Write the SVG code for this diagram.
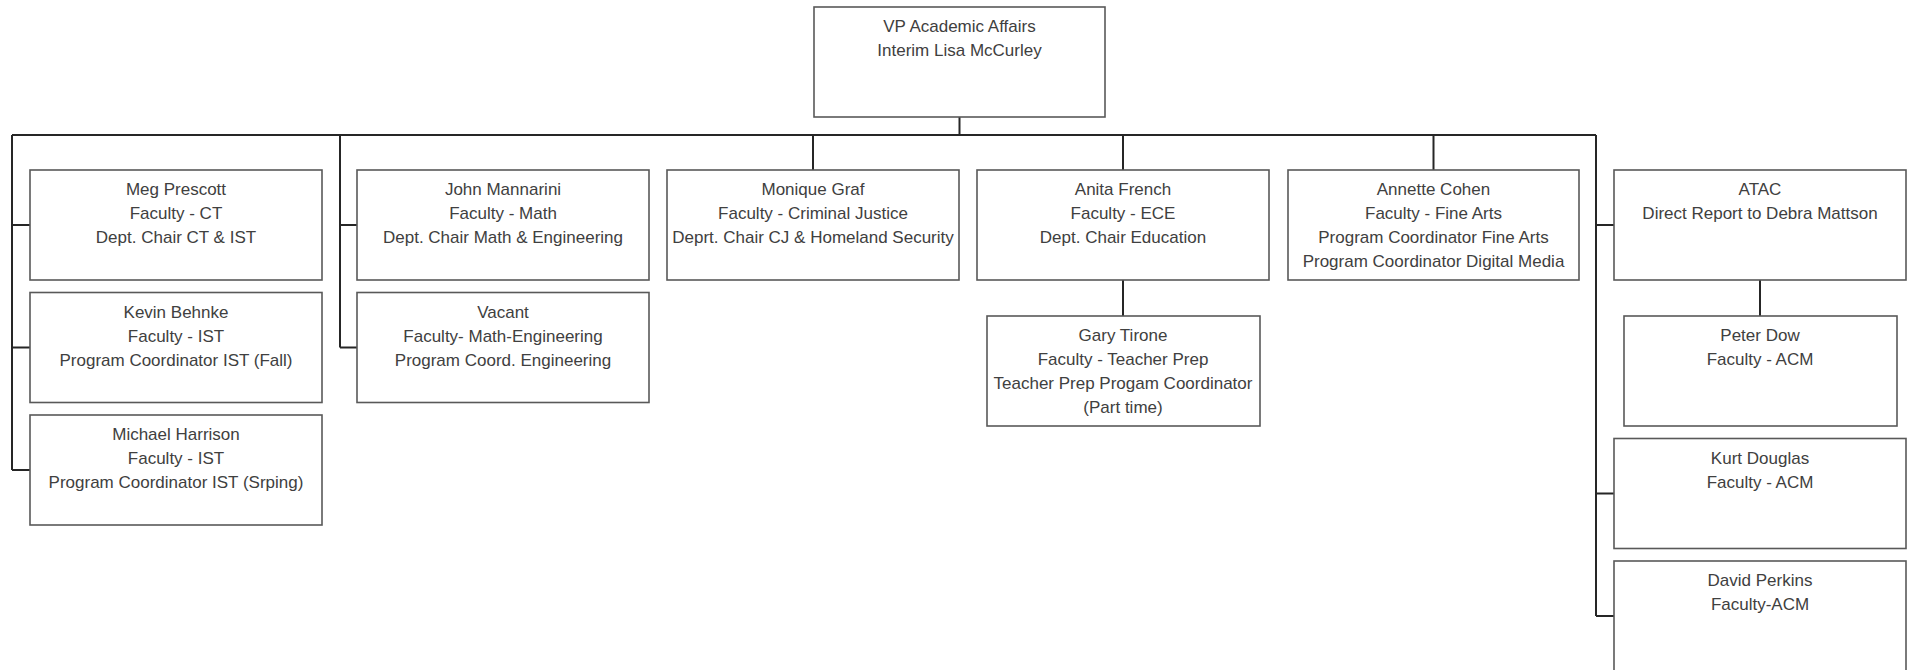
<svg xmlns="http://www.w3.org/2000/svg" width="1915" height="670" viewBox="0 0 1915 670">
  <style>
    .box { fill: #ffffff; stroke: #595959; stroke-width: 1.6; }
    .lbl { font-family: "Liberation Sans", Arial, sans-serif; font-size: 17px; fill: #404040; text-anchor: middle; }
    .wire { fill: none; stroke: #262626; stroke-width: 2; }
  </style>
  <rect width="1915" height="670" fill="#ffffff"/>

  <!-- reporting lines -->
  <g id="connectors" class="wire">
    <path d="M959.5,117 V135"/>
    <path d="M12,135 H1596"/>
    <!-- first column -->
    <path d="M12,135 V470 M12,225 H30 M12,347.5 H30 M12,470 H30"/>
    <!-- second column -->
    <path d="M340,135 V347.5 M340,225 H357 M340,347.5 H357"/>
    <!-- direct drops -->
    <path d="M813,135 V170"/>
    <path d="M1123,135 V170"/>
    <path d="M1433.5,135 V170"/>
    <path d="M1123,280 V316"/>
    <!-- right column -->
    <path d="M1596,135 V616 M1596,225 H1614 M1596,493.5 H1614 M1596,616 H1614"/>
    <path d="M1760,280 V316"/>
  </g>

  <g id="vp">
    <rect class="box" x="814" y="7" width="291" height="110"/>
    <text class="lbl" x="959.5" y="32">VP Academic Affairs</text>
    <text class="lbl" x="959.5" y="56">Interim Lisa McCurley</text>
  </g>

  <g id="meg-prescott">
    <rect class="box" x="30" y="170" width="292" height="110"/>
    <text class="lbl" x="176" y="195">Meg Prescott</text>
    <text class="lbl" x="176" y="219">Faculty - CT</text>
    <text class="lbl" x="176" y="243">Dept. Chair CT &amp; IST</text>
  </g>

  <g id="kevin-behnke">
    <rect class="box" x="30" y="292.5" width="292" height="110"/>
    <text class="lbl" x="176" y="317.5">Kevin Behnke</text>
    <text class="lbl" x="176" y="341.5">Faculty - IST</text>
    <text class="lbl" x="176" y="365.5">Program Coordinator IST (Fall)</text>
  </g>

  <g id="michael-harrison">
    <rect class="box" x="30" y="415" width="292" height="110"/>
    <text class="lbl" x="176" y="440">Michael Harrison</text>
    <text class="lbl" x="176" y="464">Faculty - IST</text>
    <text class="lbl" x="176" y="488">Program Coordinator IST (Srping)</text>
  </g>

  <g id="john-mannarini">
    <rect class="box" x="357" y="170" width="292" height="110"/>
    <text class="lbl" x="503" y="195">John Mannarini</text>
    <text class="lbl" x="503" y="219">Faculty - Math</text>
    <text class="lbl" x="503" y="243">Dept. Chair Math &amp; Engineering</text>
  </g>

  <g id="vacant">
    <rect class="box" x="357" y="292.5" width="292" height="110"/>
    <text class="lbl" x="503" y="317.5">Vacant</text>
    <text class="lbl" x="503" y="341.5">Faculty- Math-Engineering</text>
    <text class="lbl" x="503" y="365.5">Program Coord. Engineering</text>
  </g>

  <g id="monique-graf">
    <rect class="box" x="667" y="170" width="292" height="110"/>
    <text class="lbl" x="813" y="195">Monique Graf</text>
    <text class="lbl" x="813" y="219">Faculty - Criminal Justice</text>
    <text class="lbl" x="813" y="243">Deprt. Chair CJ &amp; Homeland Security</text>
  </g>

  <g id="anita-french">
    <rect class="box" x="977" y="170" width="292" height="110"/>
    <text class="lbl" x="1123" y="195">Anita French</text>
    <text class="lbl" x="1123" y="219">Faculty - ECE</text>
    <text class="lbl" x="1123" y="243">Dept. Chair Education</text>
  </g>

  <g id="gary-tirone">
    <rect class="box" x="987" y="316" width="273" height="110"/>
    <text class="lbl" x="1123" y="341">Gary Tirone</text>
    <text class="lbl" x="1123" y="365">Faculty - Teacher Prep</text>
    <text class="lbl" x="1123" y="389">Teacher Prep Progam Coordinator</text>
    <text class="lbl" x="1123" y="413">(Part time)</text>
  </g>

  <g id="annette-cohen">
    <rect class="box" x="1288" y="170" width="291" height="110"/>
    <text class="lbl" x="1433.5" y="195">Annette Cohen</text>
    <text class="lbl" x="1433.5" y="219">Faculty - Fine Arts</text>
    <text class="lbl" x="1433.5" y="243">Program Coordinator Fine Arts</text>
    <text class="lbl" x="1433.5" y="267">Program Coordinator Digital Media</text>
  </g>

  <g id="atac">
    <rect class="box" x="1614" y="170" width="292" height="110"/>
    <text class="lbl" x="1760" y="195">ATAC</text>
    <text class="lbl" x="1760" y="219">Direct Report to Debra Mattson</text>
  </g>

  <g id="peter-dow">
    <rect class="box" x="1624" y="316" width="273" height="110"/>
    <text class="lbl" x="1760" y="341">Peter Dow</text>
    <text class="lbl" x="1760" y="365">Faculty - ACM</text>
  </g>

  <g id="kurt-douglas">
    <rect class="box" x="1614" y="438.5" width="292" height="110"/>
    <text class="lbl" x="1760" y="463.5">Kurt Douglas</text>
    <text class="lbl" x="1760" y="487.5">Faculty - ACM</text>
  </g>

  <g id="david-perkins">
    <rect class="box" x="1614" y="561" width="292" height="110"/>
    <text class="lbl" x="1760" y="586">David Perkins</text>
    <text class="lbl" x="1760" y="610">Faculty-ACM</text>
  </g>
</svg>
